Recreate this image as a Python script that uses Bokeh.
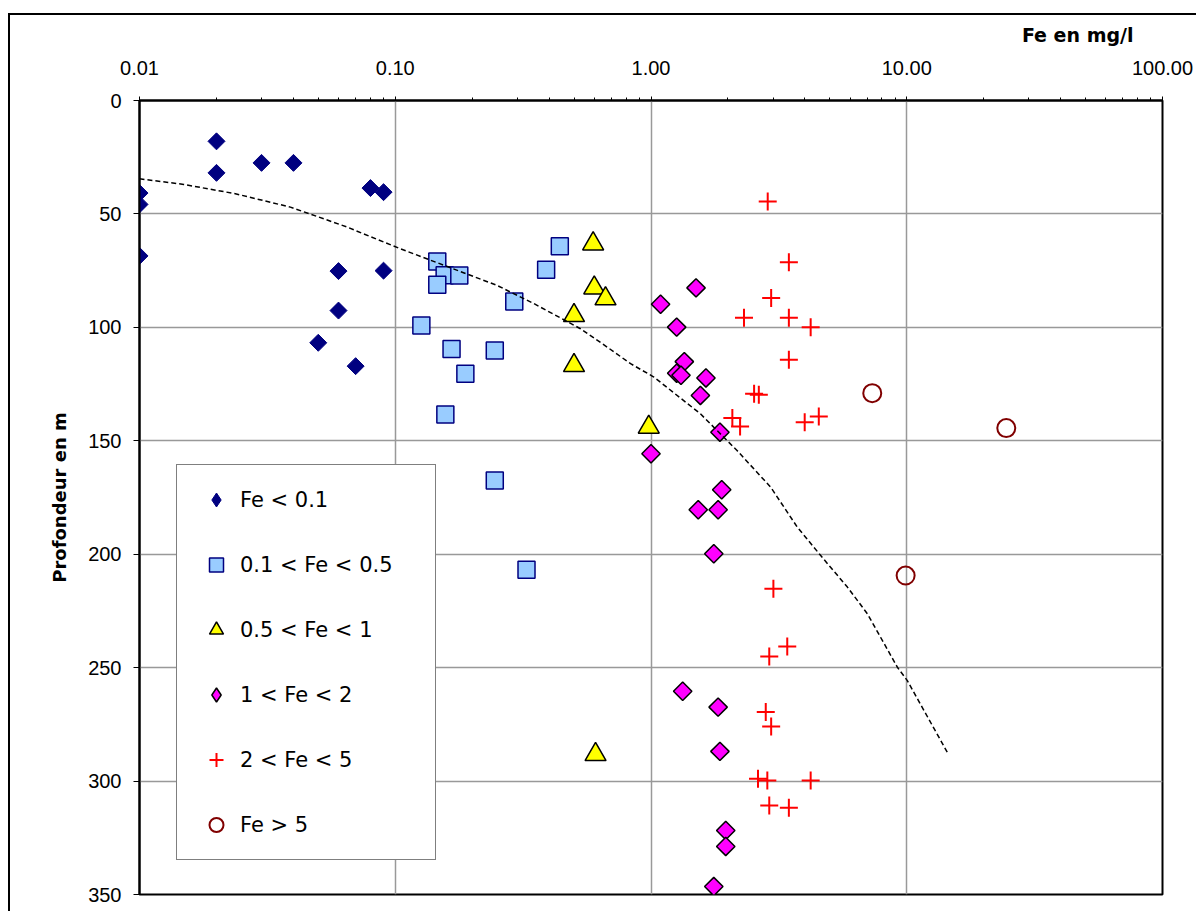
import math
import numpy as np
from bokeh.plotting import figure
from bokeh.models import (Range1d, FixedTicker, NumeralTickFormatter, Legend,
                          LegendItem)
from bokeh.embed import file_html
from bokeh.resources import INLINE

FONT = "Liberation Sans"
LFONT = "DejaVu Sans"

# ---------------- data ----------------
x_ticks = [0.01, 0.1, 1, 10, 100]
y_ticks = [0, 50, 100, 150, 200, 250, 300, 350]

x_title = "Fe en mg/l"
y_title = "Profondeur en m"

labels = ["Fe < 0.1", "0.1 < Fe < 0.5", "0.5 < Fe < 1", "1 < Fe < 2",
          "2 < Fe < 5", "Fe > 5"]

fe1_x = [0.01, 0.01, 0.01, 0.02, 0.02, 0.03, 0.04, 0.08, 0.09, 0.06, 0.09, 0.06, 0.05, 0.07]
fe1_y = [40.8, 45.8, 68.5, 18.0, 31.9, 27.5, 27.5, 38.6, 40.4, 75.2, 75.0, 92.6, 106.8, 117.1]

fe2_x = [0.146, 0.156, 0.178, 0.146, 0.292, 0.44, 0.389, 0.1265, 0.166, 0.245, 0.188, 0.157, 0.245, 0.326]
fe2_y = [71.0, 77.0, 77.1, 81.2, 88.6, 64.2, 74.6, 99.2, 109.5, 110.2, 120.5, 138.4, 167.5, 206.9]

fe3_x = [0.594, 0.6, 0.664, 0.5, 0.5, 0.98, 0.607]
fe3_y = [63.2, 82.6, 87.4, 94.8, 116.8, 144.0, 288.3]

fe4_x = [1.5, 1.09, 1.26, 1.35, 1.26, 1.31, 1.64, 1.56, 1.86, 1.0, 1.89, 1.53, 1.83, 1.76,
         1.33, 1.83, 1.86, 1.96, 1.96, 1.76]
fe4_y = [82.6, 89.8, 99.9, 115.1, 120.2, 121.1, 122.3, 130.0, 146.2, 155.7, 171.6, 180.4, 180.4,
         199.8, 260.4, 267.4, 286.9, 321.8, 328.8, 346.5]

fe5_x = [2.86, 3.46, 2.95, 2.31, 3.46, 4.21, 3.46, 2.53, 2.64, 2.08, 2.23, 3.99, 4.53,
         3.01, 3.41, 2.90, 2.81, 2.95, 2.62, 2.85, 4.21, 2.90, 3.46]
fe5_y = [44.5, 71.3, 87.1, 95.8, 95.8, 99.9, 114.3, 129.3, 129.7, 140.0, 143.7, 141.8, 139.3,
         215.2, 240.7, 245.1, 269.6, 275.9, 299.0, 299.7, 299.7, 310.8, 311.8]

fe6_x = [7.33, 24.5, 9.9]
fe6_y = [129.0, 144.4, 209.4]

curve_x = [0.01, 0.0149, 0.0237, 0.0389, 0.0494, 0.0648, 0.085, 0.105, 0.25, 0.348, 0.53,
           0.674, 0.832, 1.026, 1.56, 2.17, 2.94, 3.73, 4.6, 5.86, 7.02, 9.19, 10.05, 14.4]
curve_y = [34.5, 37.0, 41.1, 47.0, 51.1, 55.8, 61.2, 65.4, 81.5, 89.5, 100.6, 108.7, 116.0,
           121.9, 138.1, 154.3, 170.5, 188.0, 200.5, 214.5, 226.3, 249.8, 255.7, 287.3]

# ---------------- figure ----------------
p = figure(width=1188, height=898, x_axis_type="log", x_axis_location="above",
           x_range=Range1d(0.01, 100), y_range=Range1d(350, 0),
           output_backend="svg", toolbar_location=None,
           min_border_left=129, min_border_right=36, min_border_top=85,
           min_border_bottom=19,
           styles={"margin-left": "8px", "margin-top": "13px",
                   "border-left": "2px solid black",
                   "border-top": "2px solid black"})

p.background_fill_color = "white"
p.border_fill_color = "white"
p.outline_line_color = "black"
p.outline_line_width = 2

p.title.text = x_title
p.title.align = "right"
p.title.offset = 29
p.title.standoff = 0
p.title.text_font = LFONT
p.title.text_font_size = "19px"
p.title.text_font_style = "bold"
p.title.text_color = "black"

xt = FixedTicker(ticks=x_ticks,
                 minor_ticks=[m * t for t in x_ticks[:-1] for m in range(2, 10)])
xa = p.xaxis[0]
xa.ticker = xt
xa.formatter = NumeralTickFormatter(format="0.00")
xa.axis_label = " "
xa.axis_label_text_font_size = "8px"
xa.axis_label_standoff = 0
xa.major_label_text_font = FONT
xa.major_label_text_font_size = "20px"
xa.major_label_text_color = "black"
xa.major_label_standoff = 22
xa.axis_line_width = 2
xa.axis_line_color = "black"
xa.major_tick_out = 4
xa.major_tick_in = 0
xa.minor_tick_out = 3
xa.minor_tick_in = 0
xa.major_tick_line_color = "black"
xa.minor_tick_line_color = "black"

yt = FixedTicker(ticks=y_ticks, minor_ticks=[])
ya = p.yaxis[0]
ya.ticker = yt
ya.axis_label = y_title
ya.axis_label_text_font = LFONT
ya.axis_label_text_font_size = "18px"
ya.axis_label_text_font_style = "bold"
ya.axis_label_text_color = "black"
ya.axis_label_standoff = 15
ya.major_label_text_font = FONT
ya.major_label_text_font_size = "20px"
ya.major_label_text_color = "black"
ya.major_label_standoff = 12
ya.axis_line_width = 2
ya.axis_line_color = "black"
ya.major_tick_out = 6
ya.major_tick_in = 0
ya.major_tick_line_color = "black"
ya.minor_tick_line_color = None

p.xgrid.ticker = xt
p.ygrid.ticker = yt
p.xgrid.grid_line_color = "#999999"
p.ygrid.grid_line_color = "#999999"
p.xgrid.grid_line_width = 1.5
p.ygrid.grid_line_width = 1.5
p.xgrid.minor_grid_line_color = None

# ---------------- markers ----------------
navy_style = dict(fill_color="#000080", line_color="#000080", line_width=1)
pink_style = dict(fill_color="#FF00FF", line_color="black", line_width=1.5)

r1 = p.scatter(fe1_x, fe1_y, marker="square", angle=math.pi / 4, size=12, **navy_style)
r2 = p.scatter(fe2_x, fe2_y, marker="square", size=17,
               fill_color="#99CCFF", line_color="#000080", line_width=1.5)
r3 = p.scatter(fe3_x, fe3_y, marker="triangle", size=21,
               fill_color="#FFFF00", line_color="black", line_width=1.5)
r4 = p.scatter(fe4_x, fe4_y, marker="square", angle=math.pi / 4, size=13, **pink_style)
r5 = p.scatter(fe5_x, fe5_y, marker="cross", size=18,
               line_color="#FF0000", line_width=2)
r6 = p.scatter(fe6_x, fe6_y, marker="circle", size=18, fill_color=None,
               line_color="#800000", line_width=2)

p.line(curve_x, curve_y, line_color="black", line_width=1.5, line_dash="5 3")

# legend-only glyphs for the diamond series (legend glyphs ignore the angle);
# a single NaN row so nothing is drawn in the plot itself
nan = np.array([np.nan])
k1 = p.scatter(x=nan, y=nan, marker="diamond", size=12, **navy_style)
k4 = p.scatter(x=nan, y=nan, marker="diamond", size=12, **pink_style)

legend = Legend(
    items=[LegendItem(label=l, renderers=[r]) for l, r in
           zip(labels, [k1, r2, r3, k4, r5, r6])],
    location=(37, 34), padding=17, spacing=30, margin=0,
    glyph_width=44, glyph_height=35, label_height=35, label_width=178,
    label_standoff=2, label_text_font=LFONT, label_text_font_size="21px",
    label_text_color="black", border_line_color="black", border_line_width=1.5,
    background_fill_color="white", background_fill_alpha=1.0)
p.add_layout(legend)

open("out.html", "w").write(file_html(p, INLINE))
